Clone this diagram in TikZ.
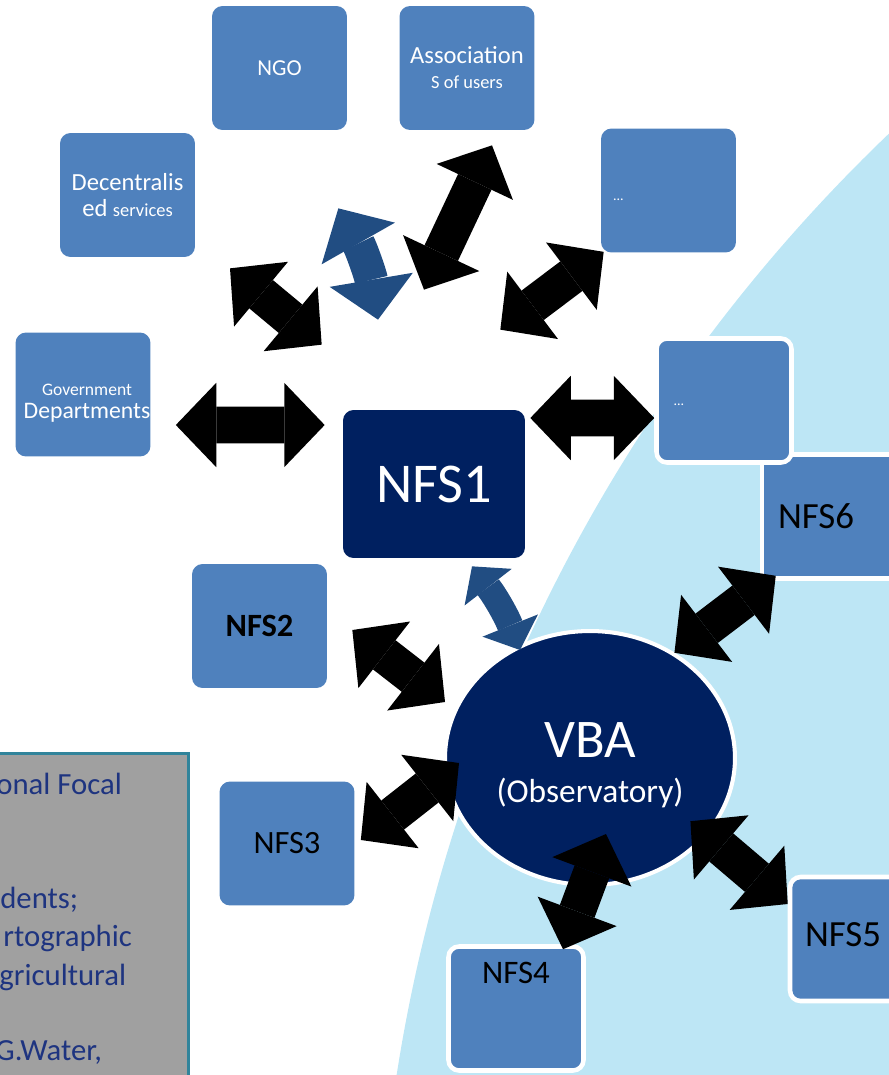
\documentclass[tikz,border=0pt]{standalone}
\usepackage{fontspec}
\setmainfont{Carlito}
\usetikzlibrary{arrows.meta, positioning, calc, shapes.geometric}
\definecolor{boxfill}{RGB}{79,129,189}
\definecolor{corefill}{RGB}{0,32,96}
\definecolor{zonefill}{RGB}{189,230,245}
\definecolor{notefill}{RGB}{160,160,160}
\definecolor{noteline}{RGB}{49,132,155}
\definecolor{notetext}{RGB}{30,52,128}
\definecolor{linkblue}{RGB}{33,77,130}
\newcommand{\fsz}[2]{\fontsize{#1}{#2}\selectfont}

\begin{document}
\begin{tikzpicture}[
  x=0.02cm, y=-0.02cm,
  box/.style={fill=boxfill, rounded corners=6pt, minimum width=2.7cm, minimum height=2.48cm,
              inner sep=1pt, align=center, text=white},
  rim/.style={box, draw=white, line width=2.6pt},
  core/.style={box, fill=corefill, minimum width=3.64cm, minimum height=2.96cm, font=\fsz{32}{36}},
  hub/.style={ellipse, fill=corefill, draw=white, line width=2.3pt, minimum width=5.8cm,
              minimum height=5.08cm, inner sep=0pt},
  lbl/.style={text=white, align=center, inner sep=0pt},
  nfs/.style={text=black, font=\fsz{21}{24}, inner sep=0pt},
  dots/.style={text=white, font=\fsz{8}{9}, inner sep=0pt},
  note/.style={fill=notefill, draw=noteline, line width=1.7pt, minimum width=4.2cm, minimum height=7cm},
  notetxt/.style={text=notetext, font=\fsz{17.5}{20}, inner sep=0pt},
  fat/.tip={Triangle[length=23pt, width=48pt, line width=0pt]},
  slim/.tip={Triangle[length=15pt, width=34pt, line width=0pt]},
  link/.style={line width=21pt, fat-fat},
  blink/.style={line width=19pt, draw=linkblue, fat-fat},
  slink/.style={line width=15pt, draw=linkblue, slim-slim},
]
\useasboundingbox (0,0) rectangle (889,1075);

% light blue zone
\begin{scope}
  \clip (0,0) rectangle (889,1075);
  \fill[zonefill] (2035,1332) circle[radius=33.17cm];
\end{scope}

% note box, cut by the page edge
\node[note, anchor=north east] (note) at (190,752) {};
\foreach \txt/\x/\y [count=\i] in {onal Focal/-4/794, dents;/0/908, rtographic/3/946,
    gricultural/-1/985, {G.Water,}/-5/1060}
  \node[notetxt, anchor=base west] (line\i) at (\x,\y) {\txt};

% partners
\node[box, font=\fsz{13}{15}] (ngo) at (279.5,68) {NGO};
\node[box, font=\fsz{14}{14.2}] (assoc) at (467,68) {Association\\{\fsz{10.5}{12}S of users}};
\node[box] (dots1) at (668.5,190.5) {};
\node[dots, right=0.24cm, yshift=-0.18cm] (dots1t) at (dots1.west) {...};
\node[box, font=\fsz{14}{14.7}] (dec) at (127.5,195) {Decentralis\\ed {\fsz{10.5}{12}services}};
\node[box] (gov) at (83,394.5) {};
\node[lbl, font=\fsz{13.5}{13}] (govt) at ($(gov)+(4,9)$) {{\fsz{10}{12}Government}\\Departments};

% focal structures
\node[rim, sharp corners] (nfs6) at (829.5,516.5) {};
\node[nfs, right=0.36cm] (nfs6t) at (nfs6.west) {NFS6};
\node[rim] (dots2) at (724,400.5) {};
\node[dots, right=0.38cm, yshift=-0.09cm] (dots2t) at (dots2.west) {...};
\node[core] (nfs1) at (434,484) {NFS1};
\node[box, font=\bfseries\fsz{18.5}{20}, text=black] (nfs2) at (259.5,626) {NFS2};
\node[box, font=\fsz{18.5}{20}, text=black] (nfs3) at (287,843.5) {NFS3};
\node[rim] (nfs4) at (516,1008.5) {};
\node[nfs, font=\fsz{18.7}{22}, below=0.36cm] (nfs4t) at (nfs4.north) {NFS4};
\node[rim] (nfs5) at (857.5,939) {};
\node[nfs, right=0.34cm, yshift=0.08cm] (nfs5t) at (nfs5.west) {NFS5};
\node[hub] (vba) at (590,758) {};
\node[lbl, font=\fsz{31}{25.5}] (vbat) at ($(vba)+(0,7)$) {VBA\\{\fsz{19}{22}(Observatory)}};

% links
\draw[link] ($(gov.east)+(25,30.5)$) -- ($(nfs1.west)+(-18,-59)$);
\draw[link] ($(dec.south)+(102.5,11)$) -- ($(nfs1.north west)+(-21,-65)$);
\draw[blink] ($(ngo.south east)+(-9,78)$) to[bend left=10] ($(nfs1.north)+(-56,-90)$);
\draw[link] ($(assoc.south)+(25,15)$) -- ($(nfs1.north)+(-10,-120)$);
\draw[link] ($(dots1.south west)+(3,-1)$) -- ($(nfs1.north east)+(-25,-80)$);
\draw[link] ($(nfs1.east)+(5,-66)$) -- ($(dots2.west)+(0,17.5)$);
\draw[slink] ($(nfs1.south)+(38,8)$) to[bend left=8] ($(vba.north)+(-70,21)$);
\draw[link] ($(nfs2.east)+(25,4)$) -- ($(vba.west)+(2,-56)$);
\draw[link] ($(nfs3.east)+(6,-3.5)$) -- ($(vba.west)+(16,5)$);
\draw[link] ($(nfs6.south west)+(16,-5)$) -- ($(vba.north east)+(-19.5,-14)$);
\draw[link] ($(nfs4.north)+(47,5)$) -- ($(vba.south)+(16,-53)$);
\draw[link] ($(nfs5.west)+(0,-35)$) -- ($(vba.south east)+(-3.5,-28)$);
\end{tikzpicture}
\end{document}
